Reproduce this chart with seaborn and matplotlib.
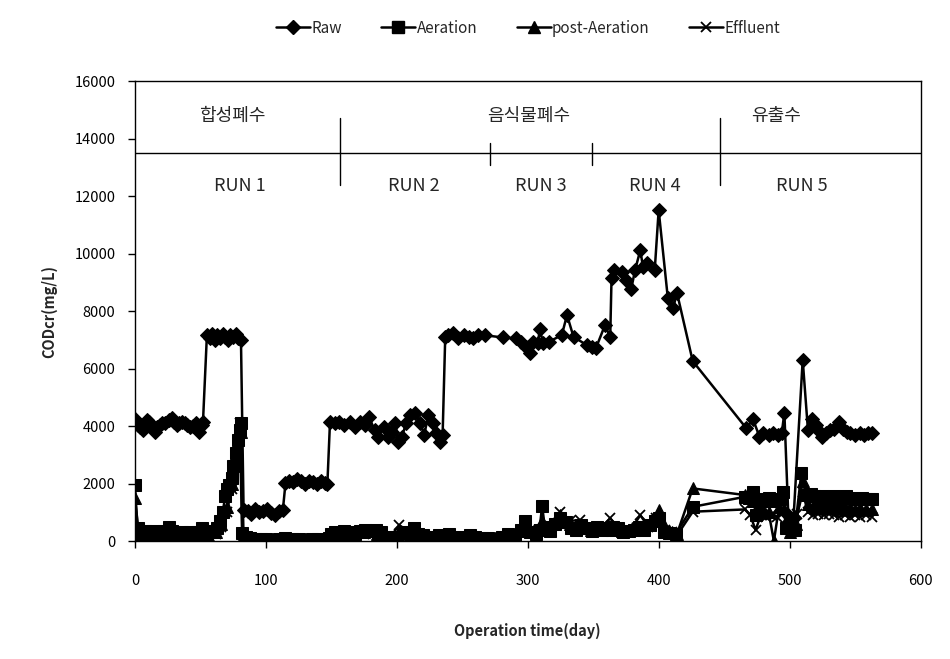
import matplotlib
matplotlib.use("Agg")
import matplotlib.pyplot as plt
import seaborn as sns
import pandas as pd
from matplotlib.lines import Line2D

sns.set_style("ticks")
plt.rcParams['font.family'] = ['Noto Sans CJK KR', 'DejaVu Sans']

# ---------------- data ----------------
raw_day = [0, 2, 4, 6, 9, 11, 13, 15, 17, 19, 21, 23, 26, 28, 30, 32, 34, 36, 38, 40, 42, 44, 47, 49, 51, 52,
           55, 57, 59, 61, 63, 65, 67, 69, 71, 73, 75, 77, 79, 81,
           83, 86, 89, 92, 95, 98, 101, 104, 107, 110, 113,
           115, 118, 121, 124, 127, 130, 133, 136, 139, 142, 145, 147,
           149, 153, 156, 160, 164, 168, 172, 176, 179, 183, 186, 190, 193, 196, 199, 201, 204, 207, 210, 214,
           218, 221, 224, 228, 230, 233, 235,
           237, 239, 243, 247, 251, 255, 258, 262, 267, 281, 291, 295, 299, 302, 304, 308, 309, 312, 316, 326,
           330, 335, 345, 349, 352, 359, 363,
           364, 366, 372, 375, 379, 382, 386, 388, 391, 397, 400, 407, 411, 414, 426,
           467, 472, 477, 480, 484, 487, 491, 494, 496, 499, 503, 510, 514, 517, 520, 523, 525, 528, 531, 534,
           538, 541, 544, 546, 550, 554, 557, 560, 563]
raw_val = [4230, 4050, 3980, 3870, 4200, 4150, 3980, 3800, 3950, 4030, 4100, 4090, 4200, 4270, 4150, 4030, 4100,
           4150, 4100, 4030, 3980, 4000, 4090, 3800, 4050, 4150,
           7170, 7050, 7200, 7000, 7150, 7050, 7200, 7100, 7000, 7150, 7100, 7200, 7050, 7000,
           1080, 1050, 950, 1100, 1000, 1050, 1100, 980, 900, 1050, 1080,
           2010, 2100, 2050, 2150, 2080, 2000, 2100, 2050, 2000, 2080, 2020, 2000,
           4150, 4090, 4150, 4040, 4150, 3980, 4150, 4040, 4300, 3860, 3630, 3980, 3630, 3800, 4090, 3450, 3630,
           4090, 4380, 4440, 4090, 3690, 4380, 4090, 3750, 3450, 3690,
           7100, 7160, 7220, 7050, 7160, 7100, 7050, 7160, 7160, 7080, 7050, 6930, 6760, 6550, 6930, 6880, 7360,
           6880, 6930, 7160, 7860, 7100, 6820, 6760, 6700, 7510, 7100,
           9140, 9430, 9360, 9080, 8760, 9430, 10120, 9530, 9680, 9430, 11510, 8450, 8100, 8630, 6260,
           3920, 4240, 3630, 3750, 3700, 3750, 3700, 3750, 4460, 900, 800, 6300, 3860, 4240, 4030, 3800, 3630,
           3750, 3860, 3900, 4150, 3900, 3800, 3750, 3700, 3750, 3700, 3750, 3750]

aer_day = [0, 2, 4, 6, 8, 10, 12, 14, 16, 18, 20, 22, 24, 26, 28, 30, 33, 36, 39, 42, 45, 48, 51, 54, 57, 60, 63,
           65, 67, 69, 70, 72, 74, 75, 77, 79, 80, 81, 82, 85, 88, 92, 96, 100, 105, 110, 115, 120, 125, 130, 135,
           140, 145, 148, 150, 153, 156, 160, 164, 168, 172, 176, 180, 184, 188, 192, 196, 200, 205, 210, 213,
           216, 220, 224, 228, 232, 236, 240, 244, 248, 252, 256, 260, 265, 270, 275, 280, 285, 290, 295, 298,
           302, 306, 309, 311, 313, 317, 321, 325, 329, 333, 337, 341, 345, 349, 353, 357, 361, 365, 369, 373,
           377, 381, 385, 389, 393, 397, 400, 404, 408, 413, 426, 466, 469, 472, 474, 476, 478, 481, 484, 487,
           490, 493, 495, 497, 502, 504, 509, 513, 516, 519, 522, 525, 528, 531, 534, 537, 540, 543, 546, 549,
           552, 555, 558, 561, 563]
aer_val = [1950, 450, 300, 250, 350, 300, 280, 350, 300, 250, 300, 350, 300, 500, 350, 300, 280, 300, 250, 300,
           280, 300, 450, 350, 300, 350, 450, 700, 1000, 1550, 1800, 1950, 2200, 2600, 3050, 3500, 3850, 4100,
           270, 150, 100, 80, 60, 80, 50, 80, 100, 60, 80, 50, 60, 80, 50, 100, 250, 300, 200, 350, 300, 250, 350,
           400, 350, 400, 300, 150, 100, 150, 300, 250, 450, 250, 200, 150, 100, 200, 150, 250, 100, 150, 100,
           200, 150, 100, 120, 80, 150, 250, 200, 400, 700, 300, 250, 400, 1220, 500, 350, 600, 800, 650, 450,
           400, 550, 450, 350, 500, 400, 450, 500, 450, 300, 350, 400, 500, 400, 550, 700, 800, 300, 270, 250,
           1190, 1540, 1500, 1720, 900, 1450, 1400, 1450, 1500, 1400, 1450, 1450, 1700, 450, 380, 380, 2380,
           1600, 1650, 1550, 1500, 1550, 1450, 1500, 1550, 1450, 1500, 1550, 1500, 1450, 1450, 1500, 1450,
           1450, 1450]

post_day = [0, 3, 8, 14, 20, 26, 32, 38, 44, 50, 56, 62, 66, 70, 74, 78, 81, 83, 90, 100, 110, 120, 130, 140,
            148, 155, 165, 175, 185, 195, 205, 215, 225, 235, 245, 255, 265, 275, 285, 295, 305, 311, 318, 325,
            332, 340, 348, 356, 364, 372, 380, 388, 395, 400, 405, 410, 414, 426, 466, 472, 476, 480, 484, 488,
            492, 496, 500, 505, 510, 514, 518, 522, 526, 530, 534, 538, 542, 546, 550, 554, 558, 563]
post_val = [1500, 250, 200, 220, 200, 250, 200, 180, 200, 250, 200, 300, 600, 1200, 2000, 3000, 3800, 150, 80,
            50, 60, 50, 40, 50, 80, 200, 250, 300, 250, 150, 300, 200, 150, 100, 120, 100, 80, 100, 200, 350,
            400, 700, 600, 900, 600, 450, 400, 450, 400, 350, 450, 500, 700, 1080, 500, 300, 250, 1830, 1600,
            1400, 1200, 1100, 1000, 0, 1200, 1100, 300, 600, 2100, 1300, 1200, 1250, 1200, 1150, 1200, 1150,
            1200, 1150, 1100, 1150, 1100, 1100]

eff_day = [0, 3, 8, 14, 20, 26, 32, 38, 44, 50, 56, 62, 66, 70, 74, 77, 80, 82, 90, 100, 110, 120, 130, 140,
           148, 155, 165, 175, 185, 195, 202, 210, 215, 225, 235, 245, 255, 265, 275, 285, 295, 305, 315, 325,
           332, 340, 348, 356, 363, 370, 378, 386, 392, 398, 405, 410, 414, 426, 466, 470, 474, 478, 482, 486,
           490, 494, 498, 502, 506, 510, 514, 518, 522, 526, 530, 534, 538, 542, 546, 550, 554, 558, 563]
eff_val = [100, 200, 150, 150, 120, 150, 100, 120, 150, 200, 150, 250, 500, 1000, 1800, 2800, 4100, 100, 60, 40,
           50, 40, 30, 40, 60, 150, 200, 250, 200, 150, 550, 300, 150, 100, 80, 100, 80, 60, 80, 200, 300, 350,
           500, 1020, 700, 730, 500, 450, 790, 400, 350, 900, 500, 800, 400, 300, 200, 1020, 1100, 900, 380,
           900, 850, 900, 850, 950, 800, 900, 950, 1700, 1000, 900, 950, 900, 950, 900, 850, 900, 850, 900,
           850, 900, 850]

series_names = ["Raw", "Aeration", "post-Aeration", "Effluent"]

# top annotation band
band_level = 13500
run_bounds = [156.5, 271, 349, 447]
major_bounds = [156.5, 447]
source_labels = ["합성폐수", "음식물폐수", "유출수"]
source_pos = [74, 301, 490]
run_labels = ["RUN 1", "RUN 2", "RUN 3", "RUN 4", "RUN 5"]
run_pos = [80, 213, 310, 397, 509]

# ---------------- figure ----------------
fig = plt.figure(figsize=(9.5, 6.59), dpi=100)
ax = fig.add_axes([0.142, 0.179, 0.827, 0.698])

styles = [
    dict(marker="D", markersize=7),
    dict(marker="s", markersize=8),
    dict(marker="^", markersize=8),
    dict(marker="x", markersize=7.5, markeredgewidth=1.3),
]
datasets = [(raw_day, raw_val), (aer_day, aer_val), (post_day, post_val), (eff_day, eff_val)]

for (d, v), st in zip(datasets, styles):
    df = pd.DataFrame({"day": d, "cod": v})
    sns.lineplot(data=df, x="day", y="cod", ax=ax, color="black", linewidth=1.8,
                 markeredgecolor="black", markerfacecolor="black", **st)

ax.set_xlim(0, 600)
ax.set_ylim(0, 16000)
ax.set_xticks(range(0, 601, 100))
ax.set_yticks(range(0, 16001, 2000))
ax.tick_params(axis="both", direction="out", length=5, width=1, labelsize=10.5, colors="black")
ax.tick_params(axis="x", pad=18.5)
ax.tick_params(axis="y", pad=9)
for s in ax.spines.values():
    s.set_color("black")
    s.set_linewidth(1.0)

ax.set_xlabel("Operation time(day)", fontsize=10.5, fontweight="bold", labelpad=25.5)
ax.set_ylabel("CODcr(mg/L)", fontsize=10.5, fontweight="bold", labelpad=12)

# annotation band
ax.axhline(band_level, color="black", linewidth=1.0)
for b in run_bounds:
    if b in major_bounds:
        ax.plot([b, b], [12400, 14700], color="black", linewidth=1.0)
    else:
        ax.plot([b, b], [13080, 13840], color="black", linewidth=1.0)
for t, p in zip(source_labels, source_pos):
    ax.text(p, 14800, t, ha="center", va="center", fontsize=13)
for t, p in zip(run_labels, run_pos):
    ax.text(p, 12350, t, ha="center", va="center", fontsize=13)

handles = [Line2D([0], [0], color="black", linewidth=1.8, markeredgecolor="black",
                  markerfacecolor="black", **st) for st in styles]
fig.legend(handles, series_names, loc="center", bbox_to_anchor=(0.556, 0.957), ncol=4,
           frameon=False, fontsize=11, handlelength=2.2, handletextpad=0.1, columnspacing=2.6)

fig.savefig("out.png", dpi=100)
